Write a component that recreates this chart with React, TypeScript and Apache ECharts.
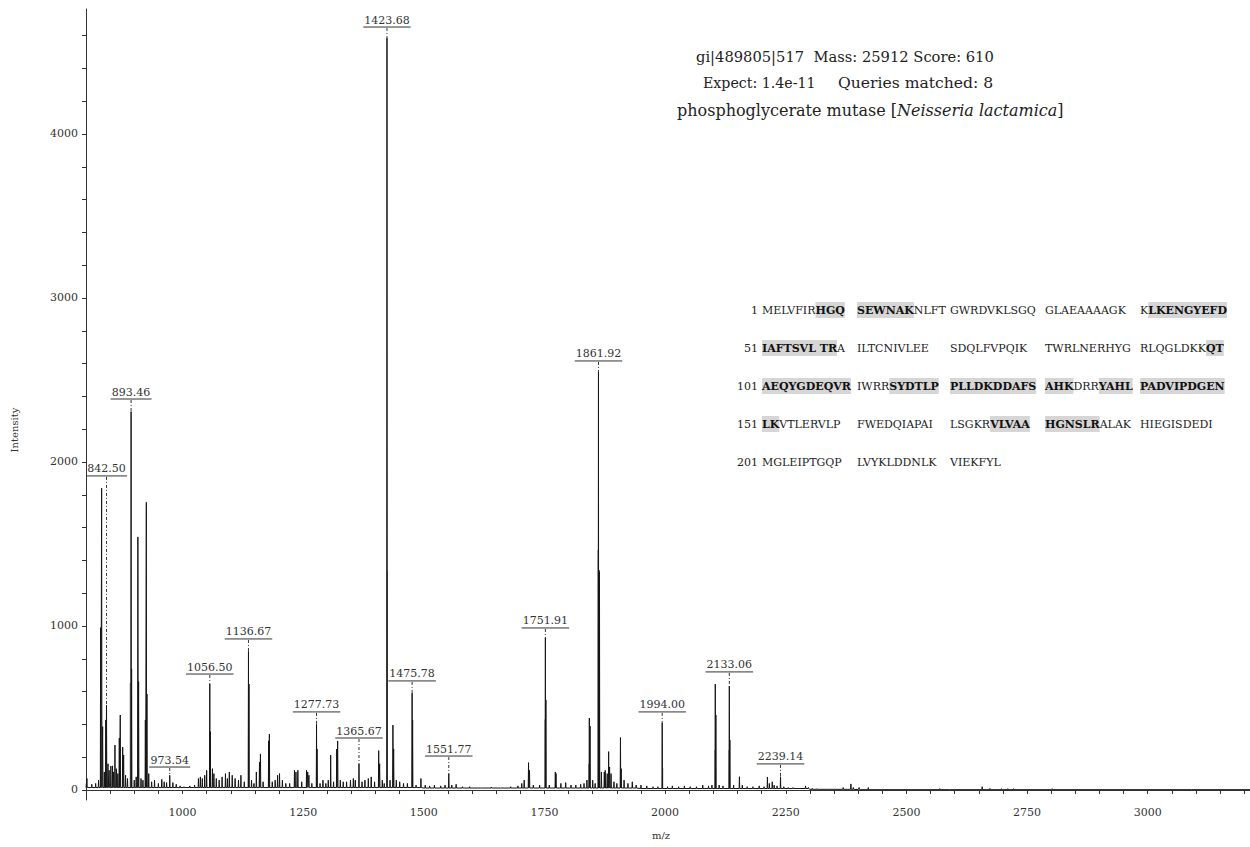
import React, { useEffect, useRef } from "react";
import * as echarts from "echarts";

// ---------------- data ----------------
// main (black) spectrum peaks: [m/z, intensity]
const mainPeaks: [number, number][] = [
  [802, 70], [812, 35], [820, 40], [826, 60], [830.3, 990], [832.4, 1840], [834.5, 386], [838, 110],
  [841, 427], [842.5, 518], [845.5, 160], [848, 120], [851.5, 146], [855, 147], [857, 110], [860, 274],
  [863, 130], [866, 100], [869, 317], [871, 457], [876, 262], [878, 213], [882, 90], [886, 70],
  [893.46, 2307], [894.5, 738], [900, 60], [904, 80], [907.5, 1543], [909, 661], [914, 70], [918, 60],
  [923, 427], [925, 1754], [926.3, 585], [930, 100], [936, 50], [942, 60], [950, 40], [957, 65],
  [962, 50], [967, 45], [973.54, 90], [980, 45], [987, 35], [995, 25], [1003, 20], [1015, 25],
  [1025, 30], [1033, 70], [1037, 80], [1041, 70], [1046, 90], [1050, 120], [1056.5, 646], [1057.6, 356],
  [1062, 130], [1065, 100], [1070, 70], [1076, 60], [1082, 80], [1089, 100], [1093, 70], [1097, 110],
  [1103, 90], [1109, 70], [1116, 60], [1121, 90], [1128, 50], [1136.67, 845], [1137.7, 646], [1143, 60],
  [1148, 40], [1153, 110], [1159.5, 170], [1161.5, 220], [1167, 50], [1178.5, 300], [1180, 341], [1186, 50],
  [1192, 60], [1197, 90], [1201, 100], [1207, 60], [1214, 40], [1222, 40], [1232, 120], [1235, 110],
  [1239, 120], [1247, 50], [1257, 120], [1259.5, 110], [1262, 90], [1268, 40], [1277.73, 400], [1278.8, 250],
  [1285, 40], [1291, 60], [1297, 40], [1302, 60], [1307, 213], [1313, 50], [1319.5, 250], [1321.5, 299],
  [1327, 60], [1333, 50], [1340, 50], [1348, 60], [1354, 70], [1358, 60], [1365.67, 159], [1372, 50],
  [1378, 60], [1385, 70], [1391, 80], [1398, 50], [1406.5, 240], [1408.5, 160], [1414, 60], [1418, 40],
  [1423.68, 4585], [1430, 60], [1436, 396], [1437.5, 250], [1443, 60], [1450, 50], [1458, 40], [1466, 40],
  [1475.78, 591], [1476.8, 427], [1484, 30], [1494, 70], [1503, 30], [1512, 25], [1522, 30], [1535, 25],
  [1544, 30], [1551.77, 100], [1558, 30], [1567, 35], [1580, 20], [1595, 20], [1620, 15], [1640, 18],
  [1660, 15], [1680, 20], [1695, 25], [1703, 40], [1708, 60], [1717, 167], [1719, 120], [1727, 30],
  [1740, 30], [1751.91, 930], [1753, 549], [1760, 30], [1772.5, 110], [1774, 100], [1784, 40], [1794, 45],
  [1805, 30], [1815, 30], [1825, 35], [1832, 40], [1838, 60], [1843, 439], [1844.5, 390], [1850, 60],
  [1855, 40], [1861.92, 2551], [1862.9, 1341], [1864, 1330], [1868, 110], [1874, 110], [1876, 120], [1880, 100],
  [1883, 234], [1885, 140], [1888, 100], [1894, 50], [1900, 40], [1907.5, 320], [1909, 130], [1915, 60],
  [1923, 40], [1932, 50], [1940, 30], [1950, 30], [1962, 25], [1975, 20], [1985, 20], [1994, 410],
  [2005, 20], [2015, 25], [2028, 20], [2040, 25], [2052, 20], [2065, 20], [2078, 30], [2090, 25],
  [2097, 30], [2104, 646], [2105.2, 457], [2112, 30], [2120, 25], [2133.06, 634], [2134.2, 305], [2142, 30],
  [2154, 81], [2160, 30], [2170, 20], [2182, 20], [2195, 25], [2205, 20], [2212, 79], [2216, 40],
  [2222, 50], [2226, 30], [2232, 25], [2239.14, 81], [2246, 20], [2255, 15], [2265, 15], [2280, 10],
  [2291, 25], [2297, 15], [2305, 10], [2315, 8], [2340, 6], [2369, 15], [2385, 37], [2390, 15],
  [2402, 15], [2421, 15], [2450, 5], [2505, 6], [2512, 5], [2520, 6], [2569, 8], [2573, 6],
  [2590, 5], [2657, 20], [2673, 10], [2697, 8], [2710, 8], [2722, 8], [2802, 8], [2812, 6], [3091, 5],
];

// secondary (grey) profile peaks: [m/z, intensity]
const grayPeaks: [number, number][] = [
  [891.5, 652], [1424.6, 1337], [1750.8, 430], [1841.5, 160], [1860.6, 1463],
  [1995.2, 134], [2103, 244], [2132, 244],
];

// baseline level per m/z region: [start m/z, level]
const baselineSteps: [number, number][] = [
  [800, 15], [1500, 12], [1950, 9], [2300, 4], [2400, 2], [3212, 2],
];

// annotated peaks: [m/z, peak intensity, label level]
const peakLabels: [number, number, number][] = [
  [842.5, 518, 1915], [893.46, 2307, 2384], [973.54, 90, 140], [1056.5, 646, 707],
  [1136.67, 845, 921], [1277.73, 400, 476], [1365.67, 159, 317], [1423.68, 4585, 4652],
  [1475.78, 591, 665], [1551.77, 100, 207], [1751.91, 930, 988], [1861.92, 2551, 2616],
  [1994.0, 410, 476], [2133.06, 634, 720], [2239.14, 81, 159],
];

const xLabelValues = [1000, 1250, 1500, 1750, 2000, 2250, 2500, 2750, 3000];
const yLabelValues = [0, 1000, 2000, 3000, 4000];
const xTickStep = 50;
const yTickStep = 200;

const titleLine1 = "gi|489805|517  Mass: 25912 Score: 610";
const titleExpect = "Expect: 1.4e-11";
const titleQueries = "Queries matched: 8";
const titleProtein = "phosphoglycerate mutase [";
const titleSpecies = "Neisseria lactamica";

// sequence rows; "*" prefix = matched peptide (bold, highlighted)
const seqStarts = [1, 51, 101, 151, 201];
const seqRows: string[][][] = [
  [["MELVFIR", "*HGQ"], ["*SEWNAK", "NLFT"], ["GWRDVKLSGQ"], ["GLAEAAAAGK"], ["K", "*LKENGYEFD"]],
  [["*IAFTSVL TR", "A"], ["ILTCNIVLEE"], ["SDQLFVPQIK"], ["TWRLNERHYG"], ["RLQGLDKK", "*QT"]],
  [["*AEQYGDEQVR"], ["IWRR", "*SYDTLP"], ["*PLLDKDDAFS"], ["*AHK", "DRR", "*YAHL"], ["*PADVIPDGEN"]],
  [["*LK", "VTLERVLP"], ["FWEDQIAPAI"], ["LSGKR", "*VLVAA"], ["*HGNSLR", "ALAK"], ["HIEGISDEDI"]],
  [["MGLEIPTGQP"], ["LVYKLDDNLK"], ["VIEKFYL"]],
];

// ---------------- helpers ----------------
const X_MIN = 800;
const X_MAX = 3212;
const Y_MIN = -61;
const Y_MAX = 4762;
const FONT = "'DejaVu Serif', serif";

function baseAt(m: number): number {
  let b = baselineSteps[0][1];
  for (const [s, v] of baselineSteps) if (m >= s) b = v;
  return b;
}

function buildSpectrum(): [number, number][] {
  const pts: [number, number][] = [];
  for (const [s, v] of baselineSteps) pts.push([s, v]);
  for (const [m, h] of mainPeaks) {
    const b = baseAt(m);
    pts.push([m - 0.6, b], [m, h], [m + 0.6, b]);
  }
  pts.sort((a, b) => a[0] - b[0]);
  return pts;
}

function ticksFrom(min: number, max: number, step: number): number[] {
  const out: number[] = [];
  for (let v = min; v <= max + 1e-9; v += step) out.push(v);
  return out;
}

function plainText(x: number, y: number, text: string, size: number) {
  return {
    type: "text",
    x,
    y,
    style: { text, fontSize: size, fontFamily: FONT, fill: "#222", align: "left", verticalAlign: "middle" },
  };
}

export default function App() {
  const ref = useRef<HTMLDivElement>(null);

  useEffect(() => {
    if (!ref.current) return;
    const chart = echarts.init(ref.current, undefined, { renderer: "svg" });

    const seqGraphics: any[] = [];
    const colX = [762, 857, 950, 1045, 1140];
    const rowY = [310, 348, 386, 424, 462];
    seqRows.forEach((row, ri) => {
      seqGraphics.push({
        type: "text",
        x: 758,
        y: rowY[ri],
        style: {
          text: String(seqStarts[ri]),
          fontSize: 11,
          fontFamily: FONT,
          fill: "#222",
          align: "right",
          verticalAlign: "middle",
        },
      });
      row.forEach((cell, ci) => {
        const txt = cell
          .map((s) => (s.startsWith("*") ? `{b|${s.slice(1)}}` : `{n|${s}}`))
          .join("");
        seqGraphics.push({
          type: "text",
          x: colX[ci],
          y: rowY[ri],
          style: {
            text: txt,
            align: "left",
            verticalAlign: "middle",
            fontSize: 11,
            fontFamily: FONT,
            fill: "#222",
            rich: {
              n: { fontSize: 11, fontFamily: FONT, fill: "#222", lineHeight: 16 },
              b: {
                fontSize: 11,
                fontFamily: FONT,
                fontWeight: "bold",
                fill: "#111",
                backgroundColor: "#d6d6d6",
                lineHeight: 16,
                height: 16,
              },
            },
          },
        });
      });
    });

    const option: any = {
      animation: false,
      grid: { left: 86, right: 0, top: 9, bottom: 47 },
      xAxis: {
        type: "value",
        min: X_MIN,
        max: X_MAX,
        axisLine: { show: true, lineStyle: { color: "#333", width: 1 } },
        axisTick: {
          show: true,
          length: 4,
          lineStyle: { color: "#333" },
          customValues: ticksFrom(800, 3200, xTickStep),
        },
        axisLabel: {
          customValues: xLabelValues,
          formatter: (v: number) => String(v),
          fontSize: 11,
          fontFamily: FONT,
          color: "#333",
          margin: 7,
        },
        splitLine: { show: false },
      },
      yAxis: {
        type: "value",
        min: Y_MIN,
        max: Y_MAX,
        axisLine: { show: true, lineStyle: { color: "#333", width: 1 } },
        axisTick: {
          show: true,
          length: 4,
          lineStyle: { color: "#333" },
          customValues: ticksFrom(0, 4600, yTickStep),
        },
        axisLabel: {
          customValues: yLabelValues,
          formatter: (v: number) => String(v),
          fontSize: 11,
          fontFamily: FONT,
          color: "#333",
          margin: 8,
        },
        splitLine: { show: false },
      },
      series: [
        {
          type: "custom",
          name: "profile",
          z: 2,
          clip: false,
          data: grayPeaks.map(([m, h]) => [m, h, baseAt(m)]),
          encode: { x: 0, y: 1 },
          renderItem: (params: any, api: any) => {
            const m = api.value(0);
            const p1 = api.coord([m, api.value(2)]);
            const p2 = api.coord([m, api.value(1)]);
            return {
              type: "line",
              shape: { x1: p1[0], y1: p1[1], x2: p2[0], y2: p2[1] },
              style: { stroke: "#8c8c8c", lineWidth: 1 },
            };
          },
        },
        {
          type: "line",
          name: "spectrum",
          z: 3,
          data: buildSpectrum(),
          showSymbol: false,
          symbol: "none",
          lineStyle: { color: "#151515", width: 1 },
        },
        {
          type: "custom",
          name: "labels",
          z: 4,
          clip: false,
          data: peakLabels,
          encode: { x: 0, y: 2 },
          renderItem: (params: any, api: any) => {
            const m = api.value(0);
            const pk = api.coord([m, api.value(1)]);
            const pl = api.coord([m, api.value(2)]);
            const text = m.toFixed(2);
            const half = text.length * 3.25 + 1;
            return {
              type: "group",
              children: [
                {
                  type: "line",
                  shape: { x1: pl[0] - half, y1: pl[1], x2: pl[0] + half, y2: pl[1] },
                  style: { stroke: "#333", lineWidth: 1 },
                },
                {
                  type: "line",
                  shape: { x1: pl[0], y1: pl[1] + 1, x2: pl[0], y2: pk[1] },
                  style: { stroke: "#333", lineWidth: 1, lineDash: [3, 2, 1, 2] },
                },
                {
                  type: "text",
                  x: pl[0],
                  y: pl[1] - 1.5,
                  style: {
                    text,
                    fontSize: 11,
                    fontFamily: FONT,
                    fill: "#333",
                    align: "center",
                    verticalAlign: "bottom",
                  },
                },
              ],
            };
          },
        },
      ],
      graphic: [
        plainText(696, 56, titleLine1, 14.7),
        plainText(703, 83, titleExpect, 14.2),
        plainText(838, 83, titleQueries, 15.6),
        {
          type: "text",
          x: 677,
          y: 110,
          style: {
            text: `{n|${titleProtein}}{i|${titleSpecies}}{n|]}`,
            align: "left",
            verticalAlign: "middle",
            fontSize: 16,
            fontFamily: FONT,
            fill: "#222",
            rich: {
              n: { fontSize: 16, fontFamily: FONT, fill: "#222" },
              i: { fontSize: 16, fontFamily: FONT, fill: "#222", fontStyle: "italic" },
            },
          },
        },
        {
          type: "text",
          x: 14,
          y: 430,
          rotation: Math.PI / 2,
          style: { text: "Intensity", fontSize: 10, fontFamily: FONT, fill: "#333", align: "center", verticalAlign: "middle" },
        },
        {
          type: "text",
          x: 661,
          y: 835,
          style: { text: "m/z", fontSize: 10, fontFamily: FONT, fill: "#333", align: "center", verticalAlign: "middle" },
        },
        ...seqGraphics,
      ],
    };

    chart.setOption(option);
    return () => chart.dispose();
  }, []);

  return (
    <div
      ref={ref}
      style={{ position: "absolute", left: 0, top: 0, width: 1250, height: 847, background: "#fff" }}
    />
  );
}
